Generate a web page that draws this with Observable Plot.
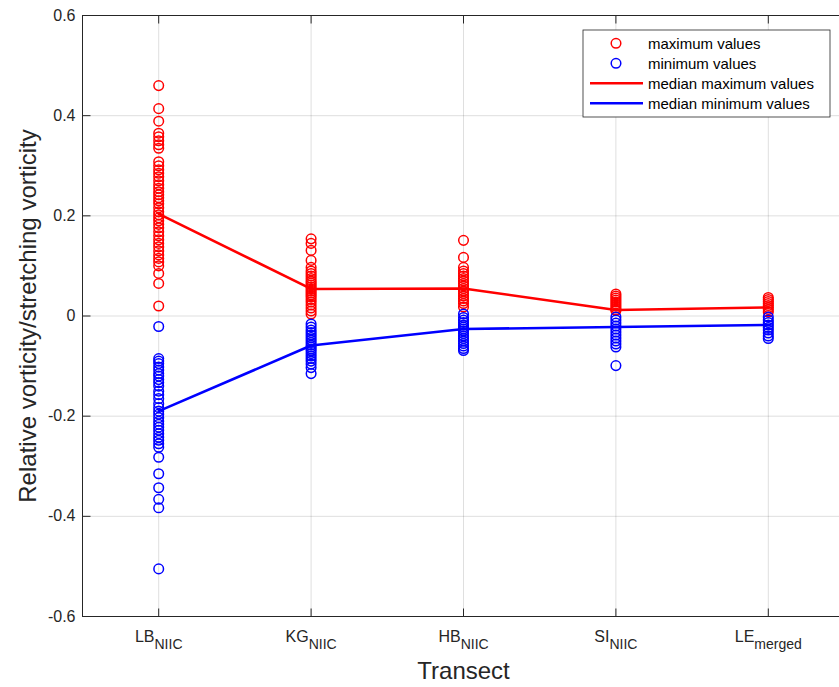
<!DOCTYPE html>
<html>
<head>
<meta charset="utf-8">
<script src="https://cdn.jsdelivr.net/npm/d3@7"></script>
<script src="https://cdn.jsdelivr.net/npm/@observablehq/plot@0.6"></script>
<style>
  html, body { margin: 0; padding: 0; background: white; }
  #chart svg { display: block; }
</style>
</head>
<body>
<div id="chart"></div>
<script>
// ---- Data ----
const categories = ["LB", "KG", "HB", "SI", "LE"];
const subscripts = ["NIIC", "NIIC", "NIIC", "NIIC", "merged"];

const lbMax = [0.460, 0.414, 0.389, 0.365, 0.358, 0.350, 0.342, 0.335, 0.308, 0.300, 0.292, 0.285, 0.278, 0.270, 0.262, 0.255, 0.248, 0.242, 0.236, 0.230, 0.224, 0.216, 0.208, 0.202, 0.196, 0.190, 0.183, 0.176, 0.168, 0.160, 0.152, 0.145, 0.138, 0.130, 0.122, 0.115, 0.108, 0.100, 0.085, 0.065, 0.020];
const kgMax = [0.154, 0.145, 0.131, 0.111, 0.097, 0.090, 0.085, 0.080, 0.075, 0.070, 0.066, 0.062, 0.058, 0.054, 0.050, 0.046, 0.042, 0.038, 0.033, 0.028, 0.022, 0.016, 0.010, 0.004];
const hbMax = [0.151, 0.117, 0.097, 0.090, 0.085, 0.080, 0.075, 0.070, 0.065, 0.060, 0.055, 0.050, 0.045, 0.040, 0.035, 0.030, 0.025, 0.018];
const siMax = [0.044, 0.040, 0.036, 0.032, 0.028, 0.024, 0.020, 0.016, 0.012, 0.011];
const leMax = [0.037, 0.033, 0.029, 0.025, 0.021, 0.017, 0.013, 0.008];

const lbMin = [-0.021, -0.085, -0.090, -0.095, -0.102, -0.108, -0.115, -0.120, -0.127, -0.133, -0.140, -0.150, -0.157, -0.165, -0.175, -0.183, -0.190, -0.196, -0.203, -0.210, -0.216, -0.222, -0.228, -0.235, -0.242, -0.248, -0.255, -0.262, -0.282, -0.315, -0.343, -0.366, -0.383, -0.505];
const kgMin = [-0.016, -0.022, -0.028, -0.033, -0.038, -0.043, -0.048, -0.053, -0.058, -0.062, -0.066, -0.070, -0.075, -0.080, -0.085, -0.090, -0.096, -0.103, -0.115];
const hbMin = [0.004, -0.003, -0.008, -0.013, -0.018, -0.022, -0.026, -0.030, -0.035, -0.040, -0.045, -0.050, -0.055, -0.060, -0.065, -0.069];
const siMin = [-0.002, -0.008, -0.014, -0.020, -0.026, -0.032, -0.038, -0.044, -0.050, -0.056, -0.062, -0.099];
const leMin = [-0.002, -0.008, -0.013, -0.018, -0.023, -0.028, -0.034, -0.040, -0.045];

const medianMax = [0.204, 0.054, 0.055, 0.012, 0.017];
const medianMin = [-0.190, -0.059, -0.026, -0.022, -0.018];

const yTicks = [-0.6, -0.4, -0.2, 0, 0.2, 0.4, 0.6];
const xTicks = [1, 2, 3, 4, 5];

const legendLabels = ["maximum values", "minimum values", "median maximum values", "median minimum values"];
const yLabel = "Relative vorticity/stretching vorticity";
const xLabel = "Transect";

// ---- Derived tables ----
const maxSets = [lbMax, kgMax, hbMax, siMax, leMax];
const minSets = [lbMin, kgMin, hbMin, siMin, leMin];
const maxPts = maxSets.flatMap((arr, i) => arr.map(v => ({x: i + 1, y: v})));
const minPts = minSets.flatMap((arr, i) => arr.map(v => ({x: i + 1, y: v})));
const medMaxPts = medianMax.map((v, i) => ({x: i + 1, y: v}));
const medMinPts = medianMin.map((v, i) => ({x: i + 1, y: v}));

const axisColor = "#262626";
const tickLen = 8;
const symRight = {draw(ctx) { ctx.moveTo(0, 0); ctx.lineTo(tickLen, 0); }};
const symDown = {draw(ctx) { ctx.moveTo(0, 0); ctx.lineTo(0, tickLen); }};
const symUp = {draw(ctx) { ctx.moveTo(0, 0); ctx.lineTo(0, -tickLen); }};

const chart = Plot.plot({
  width: 839,
  height: 687,
  marginLeft: 82,
  marginTop: 15,
  marginBottom: 71,
  marginRight: -5,
  x: {domain: [0.5, 5.5], range: [82, 844], axis: null},
  y: {domain: [-0.6, 0.6], range: [616, 15]},
  style: {fontFamily: "'Liberation Sans', Arial, sans-serif", color: axisColor, background: "white"},
  marks: [
    Plot.gridX(xTicks, {stroke: axisColor, strokeOpacity: 0.15}),
    Plot.gridY(yTicks, {stroke: axisColor, strokeOpacity: 0.15}),
    Plot.axisY(yTicks, {tickSize: 0, tickPadding: 7, fontSize: 16, fill: axisColor,
      tickFormat: d => d === 0 ? "0" : d.toFixed(1), label: null}),
    Plot.dot(yTicks, {x: 0.5, y: d => d, symbol: symRight, stroke: axisColor, strokeWidth: 1, fill: "none"}),
    Plot.dot(xTicks, {x: d => d, y: -0.6, symbol: symUp, stroke: axisColor, strokeWidth: 1, fill: "none"}),
    Plot.dot(xTicks, {x: d => d, y: 0.6, symbol: symDown, stroke: axisColor, strokeWidth: 1, fill: "none"}),
    Plot.dot(maxPts, {x: "x", y: "y", r: 4.8, stroke: "#ff0000", strokeWidth: 1.5, fill: "none"}),
    Plot.dot(minPts, {x: "x", y: "y", r: 4.8, stroke: "#0000ff", strokeWidth: 1.5, fill: "none"}),
    Plot.line(medMaxPts, {x: "x", y: "y", stroke: "#ff0000", strokeWidth: 2.6}),
    Plot.line(medMinPts, {x: "x", y: "y", stroke: "#0000ff", strokeWidth: 2.6}),
    Plot.frame({stroke: axisColor, strokeWidth: 1}),
    Plot.text(xTicks, {x: d => d, y: -0.6, text: d => categories[d - 1], dy: 21, fontSize: 15,
      fill: axisColor}),
    Plot.text([yLabel], {frameAnchor: "left", dx: -54, rotate: -90, fontSize: 24, fill: axisColor,
      textAnchor: "middle", lineAnchor: "middle"}),
    Plot.text([xLabel], {frameAnchor: "bottom", dy: 55, fontSize: 24, fill: axisColor,
      lineAnchor: "middle"})
  ]
});

document.getElementById("chart").appendChild(chart);

// subscripts on x tick labels
const svg = d3.select(chart);
svg.selectAll("text").each(function() {
  const t = d3.select(this);
  if (!t.select("tspan").empty()) return;
  const main = t.text();
  const idx = categories.indexOf(main);
  if (idx < 0) return;
  t.text(null);
  t.append("tspan").style("font-size", "16px").text(main);
  t.append("tspan").attr("dy", 7).style("font-size", "14px").text(subscripts[idx]);
});

// legend
const lg = svg.append("g")
  .attr("font-family", "'Liberation Sans', Arial, sans-serif")
  .attr("font-size", 15)
  .attr("text-anchor", "start");
lg.append("rect").attr("x", 583).attr("y", 30).attr("width", 247).attr("height", 87)
  .attr("fill", "white").attr("stroke", axisColor).attr("stroke-width", 0.8);
const rowY = [43.3, 63.3, 83.3, 103.3];
const colors = ["#ff0000", "#0000ff", "#ff0000", "#0000ff"];
legendLabels.forEach((lab, i) => {
  if (i < 2) {
    lg.append("circle").attr("cx", 616).attr("cy", rowY[i]).attr("r", 4.8)
      .attr("fill", "none").attr("stroke", colors[i]).attr("stroke-width", 1.5);
  } else {
    lg.append("line").attr("x1", 590).attr("x2", 643).attr("y1", rowY[i]).attr("y2", rowY[i])
      .attr("stroke", colors[i]).attr("stroke-width", 2.6);
  }
  lg.append("text").attr("x", 648).attr("y", rowY[i]).attr("dy", "0.35em")
    .attr("text-anchor", "start").attr("fill", "#000").text(lab);
});
</script>
</body>
</html>
